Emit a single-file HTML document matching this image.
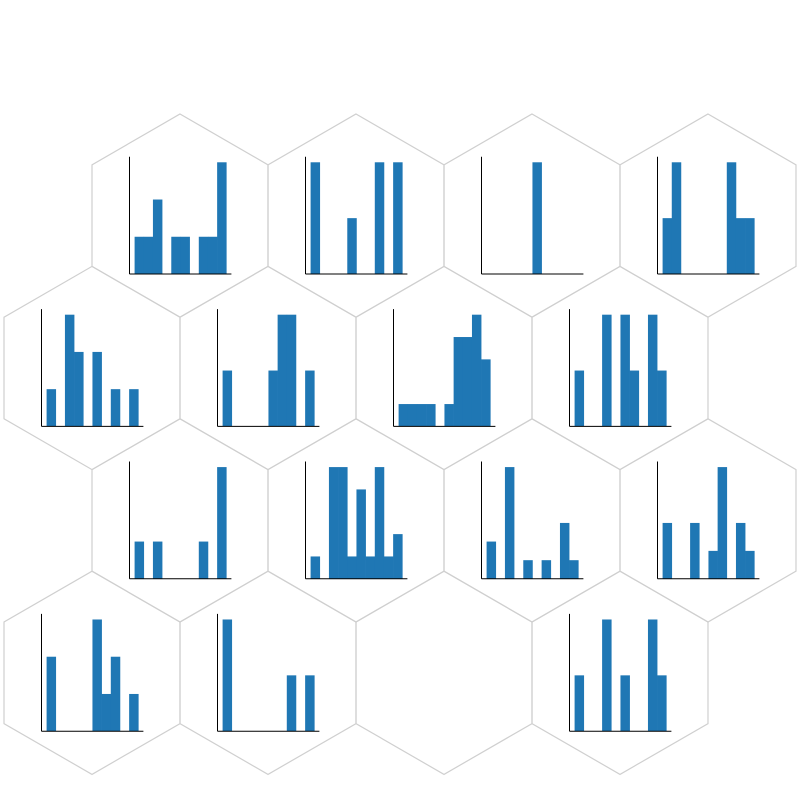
<!DOCTYPE html>
<html><head><meta charset="utf-8"><style>html,body{margin:0;padding:0;background:#fff}svg{display:block}</style></head>
<body>
<svg id="chart" width="800" height="800" viewBox="0 0 800 800" xmlns="http://www.w3.org/2000/svg"></svg>
<script>
const row1Counts = [[1,1,2,0,1,1,0,1,1,3],[2,0,0,0,1,0,0,2,0,2],[0,0,0,0,0,1,0,0,0,0],[1,2,0,0,0,0,0,2,1,1]];
const row2Counts = [[1,0,3,2,0,2,0,1,0,1],[1,0,0,0,0,1,2,2,0,1],[1,1,1,1,0,1,4,4,5,3],[1,0,0,2,0,2,1,0,2,1]];
const row3Counts = [[1,0,1,0,0,0,0,1,0,3],[1,0,5,5,1,4,1,5,1,2],[2,0,6,0,1,0,1,0,3,1],[2,0,0,2,0,1,4,0,2,1]];
const row4Counts = [[2,0,0,0,0,3,1,2,0,1],[2,0,0,0,0,0,0,1,0,1],null,[1,0,0,2,0,1,0,0,2,1]];
const rows = [row1Counts,row2Counts,row3Counts,row4Counts];

const NS='http://www.w3.org/2000/svg';
const svg=document.getElementById('chart');
const R=101.6, W=176, CY0=215.6, DY=152.4;
function mk(tag,attrs){const e=document.createElementNS(NS,tag);for(const k in attrs)e.setAttribute(k,attrs[k]);return e;}

rows.forEach((row,ri)=>{
  const cy=CY0+ri*DY;
  const offset = ri%2===0 ? 180 : 92;
  row.forEach((counts,ci)=>{
    const cx=offset+ci*W;
    const g=mk('g',{});
    
    
    const pts=[];
    for(let k=0;k<6;k++){const a=Math.PI/180*(60*k-90);pts.push((cx+R*Math.cos(a)).toFixed(2)+','+(cy+R*Math.sin(a)).toFixed(2));}
    const hex=mk('polygon',{points:pts.join(' '),fill:'none',stroke:'#cfcfcf','stroke-width':1.2});
    
    
    g.appendChild(hex);
    if(counts){
      const x0=cx-50.5,x1=cx+51.4,yb=cy+58.4,yt=cy-58.9;
      const n=counts.length, maxC=Math.max(...counts), ymax=maxC*1.05;
      const aw=x1-x0, bx0=x0+aw*0.05, bw=aw*0.9/n;
      const xs=i=>bx0+i*bw;
      const ys=v=>yb-(v/ymax)*(yb-yt);
      counts.forEach((c,i)=>{
        if(c<=0)return;
        const b=mk('rect',{x:xs(i),y:ys(c),width:bw+0.3,height:yb-ys(c),fill:'#1f77b4'});
        
        
        g.appendChild(b);
      });
      const ly=mk('line',{x1:x0,y1:yt,x2:x0,y2:yb,stroke:'#000','stroke-width':1});
      
      
      g.appendChild(ly);
      const lx=mk('line',{x1:x0,y1:yb,x2:x1,y2:yb,stroke:'#000','stroke-width':1});
      
      
      g.appendChild(lx);
    }
    svg.appendChild(g);
  });
});
</script>
</body></html>
